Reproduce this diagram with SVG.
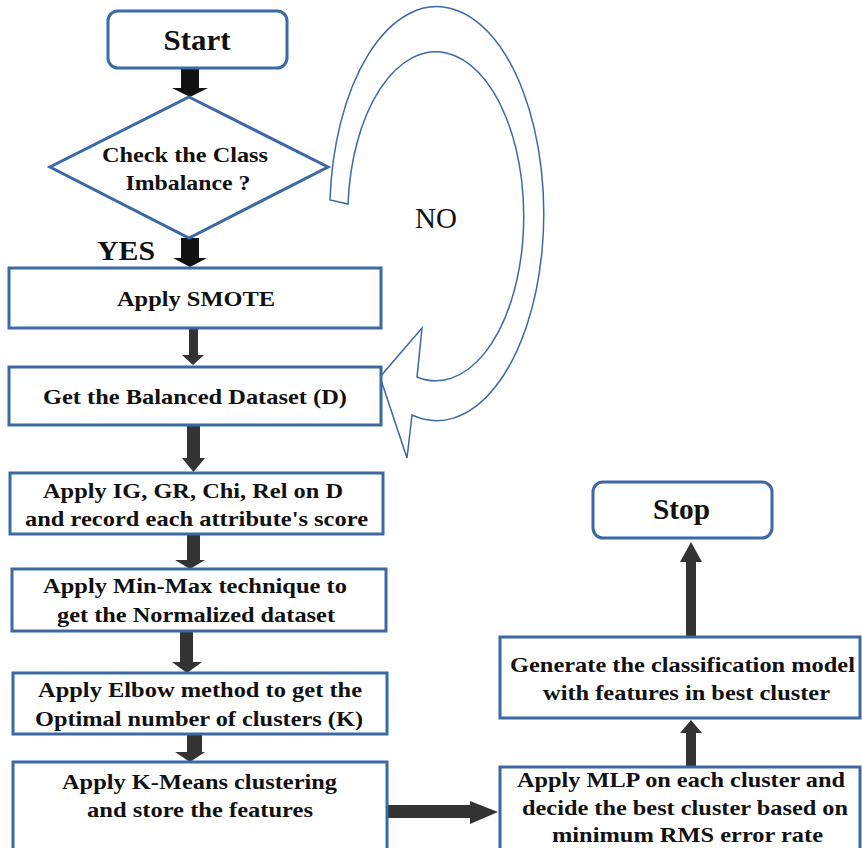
<svg xmlns="http://www.w3.org/2000/svg" width="862" height="848" viewBox="0 0 862 848">
<style>
.box{fill:#fff;stroke:#3c68a6;stroke-width:3}
.t{font-family:"Liberation Serif","Times New Roman",serif;font-weight:bold;font-size:22px;fill:#111;text-anchor:middle}
.a1{fill:#111}
.a2{fill:#333}
.loop{fill:#fff;stroke:#3c68a6;stroke-width:1.5;stroke-linejoin:miter}
</style>
<rect width="862" height="848" fill="#fff"/>
<g id="loop">
<path class="loop" d="M330,200 A107,207 0 1 1 412,415 L407,458 L380,377 L422,328 L417,377 A88,164.5 0 1 0 348,204 Z"/>
<text x="436" y="228" style="font-family:'Liberation Serif',serif;font-size:29px;fill:#111;text-anchor:middle">NO</text>
</g>
<g id="connectors">
<rect class="a1" x="181" y="68" width="18" height="21"/><polygon class="a1" points="172,88 208,88 190,97"/>
<rect class="a1" x="181" y="238" width="18" height="21"/><polygon class="a1" points="173,258 207,258 190,267"/>
<rect class="a2" x="189" y="328" width="9" height="28"/><polygon class="a2" points="182,355 204,355 193,365"/>
<rect class="a2" x="187" y="425" width="13" height="34"/><polygon class="a2" points="182,458 205,458 193.5,472"/>
<rect class="a2" x="187" y="534" width="13" height="27"/><polygon class="a2" points="175,560 205,560 190,569"/>
<rect class="a2" x="180" y="631" width="13" height="32"/><polygon class="a2" points="172,662 202,662 187,673"/>
<rect class="a2" x="187" y="734" width="15" height="19"/><polygon class="a2" points="175,752 205,752 190,762"/>
<rect class="a2" x="387" y="805" width="84" height="13"/><polygon class="a2" points="470,801 470,824 498,812"/>
<rect class="a2" x="686" y="732" width="10" height="36"/><polygon class="a2" points="680,733 702,733 691,720"/>
<rect class="a2" x="686" y="561" width="10" height="77"/><polygon class="a2" points="680,562 702,562 691,542"/>
</g>
<g id="start">
<rect class="box" x="108" y="11" width="179" height="57" rx="10"/>
<text class="t" x="197" y="50" style="font-size:30px" textLength="67" lengthAdjust="spacingAndGlyphs">Start</text>
</g>
<g id="check">
<polygon class="box" points="189,97 328,167 189,238 50,167"/>
<text class="t" x="185" y="162" textLength="166" lengthAdjust="spacingAndGlyphs">Check the Class</text>
<text class="t" x="188" y="190" textLength="125" lengthAdjust="spacingAndGlyphs">Imbalance ?</text>
</g>
<text id="yes" class="t" x="126" y="260" style="font-size:27px" textLength="58" lengthAdjust="spacingAndGlyphs">YES</text>
<g id="smote">
<rect class="box" x="9" y="268" width="372" height="60"/>
<text class="t" x="196" y="306" textLength="158" lengthAdjust="spacingAndGlyphs">Apply SMOTE</text>
</g>
<g id="balanced">
<rect class="box" x="9" y="367" width="372" height="58"/>
<text class="t" x="195" y="404" textLength="304" lengthAdjust="spacingAndGlyphs">Get the Balanced Dataset (D)</text>
</g>
<g id="ig">
<rect class="box" x="10" y="473" width="373" height="61"/>
<text class="t" x="193" y="498" textLength="300" lengthAdjust="spacingAndGlyphs">Apply IG, GR, Chi, Rel on D</text>
<text class="t" x="196.5" y="526" textLength="343" lengthAdjust="spacingAndGlyphs">and record each attribute's score</text>
</g>
<g id="minmax">
<rect class="box" x="12" y="569" width="374" height="62"/>
<text class="t" x="195" y="593" textLength="304" lengthAdjust="spacingAndGlyphs">Apply Min-Max technique to</text>
<text class="t" x="196" y="622" textLength="278" lengthAdjust="spacingAndGlyphs">get the Normalized dataset</text>
</g>
<g id="elbow">
<rect class="box" x="13" y="673" width="374" height="61"/>
<text class="t" x="200" y="697" textLength="324" lengthAdjust="spacingAndGlyphs">Apply Elbow method to get the</text>
<text class="t" x="199" y="726" textLength="328" lengthAdjust="spacingAndGlyphs">Optimal number of clusters (K)</text>
</g>
<g id="kmeans">
<rect class="box" x="13" y="762" width="374" height="92"/>
<text class="t" x="199.5" y="789" textLength="275" lengthAdjust="spacingAndGlyphs">Apply K-Means clustering</text>
<text class="t" x="200" y="817" textLength="226" lengthAdjust="spacingAndGlyphs">and store the features</text>
</g>
<g id="mlp">
<rect class="box" x="500" y="767" width="360" height="90"/>
<text class="t" x="681" y="787" textLength="328" lengthAdjust="spacingAndGlyphs">Apply MLP on each cluster and</text>
<text class="t" x="685" y="815" textLength="326" lengthAdjust="spacingAndGlyphs">decide the best cluster based on</text>
<text class="t" x="687.5" y="842" textLength="271" lengthAdjust="spacingAndGlyphs">minimum RMS error rate</text>
</g>
<g id="generate">
<rect class="box" x="500" y="637" width="360" height="81"/>
<text class="t" x="682.5" y="672" textLength="345" lengthAdjust="spacingAndGlyphs">Generate the classification model</text>
<text class="t" x="686.5" y="700" textLength="287" lengthAdjust="spacingAndGlyphs">with features in best cluster</text>
</g>
<g id="stop">
<rect class="box" x="593" y="482" width="179" height="56" rx="10"/>
<text class="t" x="681.5" y="519" style="font-size:30px" textLength="57" lengthAdjust="spacingAndGlyphs">Stop</text>
</g>
</svg>
